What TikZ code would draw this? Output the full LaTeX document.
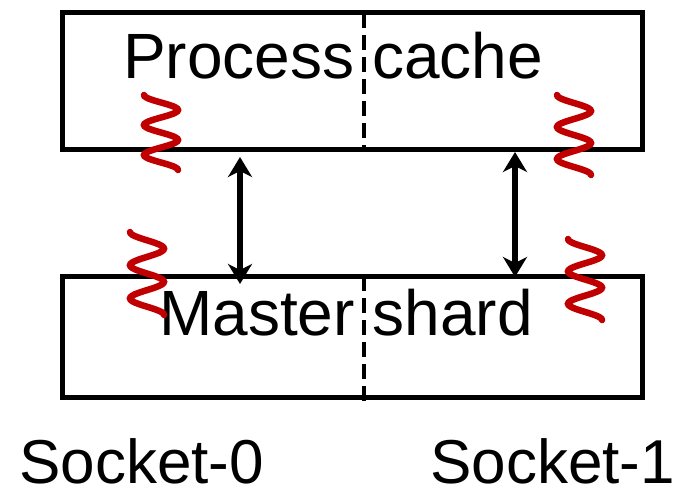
\documentclass[tikz,border=0pt]{standalone}
\usepackage{fontspec}
\setmainfont{Liberation Sans}
\usetikzlibrary{arrows.meta,positioning}
\definecolor{wavered}{RGB}{192,0,0}

\begin{document}
\begin{tikzpicture}[x=1pt,y=-1pt,>={Stealth[length=20pt,width=24pt,inset=6pt]},
    lbl/.style={inner sep=0pt,font=\fontsize{64}{70}\selectfont},
    part/.style={draw,line width=5pt,minimum width=580pt,inner sep=0pt}]
  \useasboundingbox (0,0) rectangle (679,492);
  \node[part,minimum height=136pt] (cache) at (352,81) {};
  \node[part,minimum height=121pt] (shard) at (352,336.5) {};
  \draw[line width=4pt,dash pattern=on 15pt off 7pt] (364,13) -- (364,150);
  \draw[line width=4pt,dash pattern=on 15pt off 7pt] (364,276) -- (364,402);
  \node[lbl,anchor=base] (cachetxt) at (333,79) {Process cache};
  \node[lbl,anchor=base] (shardtxt) at (346,335) {Master shard};
  \node[lbl,anchor=base west,font=\fontsize{62}{70}\selectfont] (sock0) at (19,483) {Socket-0};
  \node[lbl,anchor=base west,font=\fontsize{62}{70}\selectfont] (sock1) at (430,483) {Socket-1};
  \coordinate (a0) at (240,157);
  \coordinate (b0) at (240,284);
  \coordinate (a1) at (515,152);
  \coordinate (b1) at (515,277);
  \draw[<->,line width=6pt] (a0) -- (b0);
  \draw[<->,line width=6pt] (a1) -- (b1);
  % squiggles
  \foreach \cx/\ty/\by in {161/95/170,147/232/315,574/95/175,585/239/320} {
    \draw[wavered,line width=6.5pt,line cap=round]
      plot[smooth,domain=0:900,samples=61,variable=\t]
      ({\cx-17*cos(\t)},{\ty+(\by-\ty)*(\t/900)});
  }
\end{tikzpicture}
\end{document}
